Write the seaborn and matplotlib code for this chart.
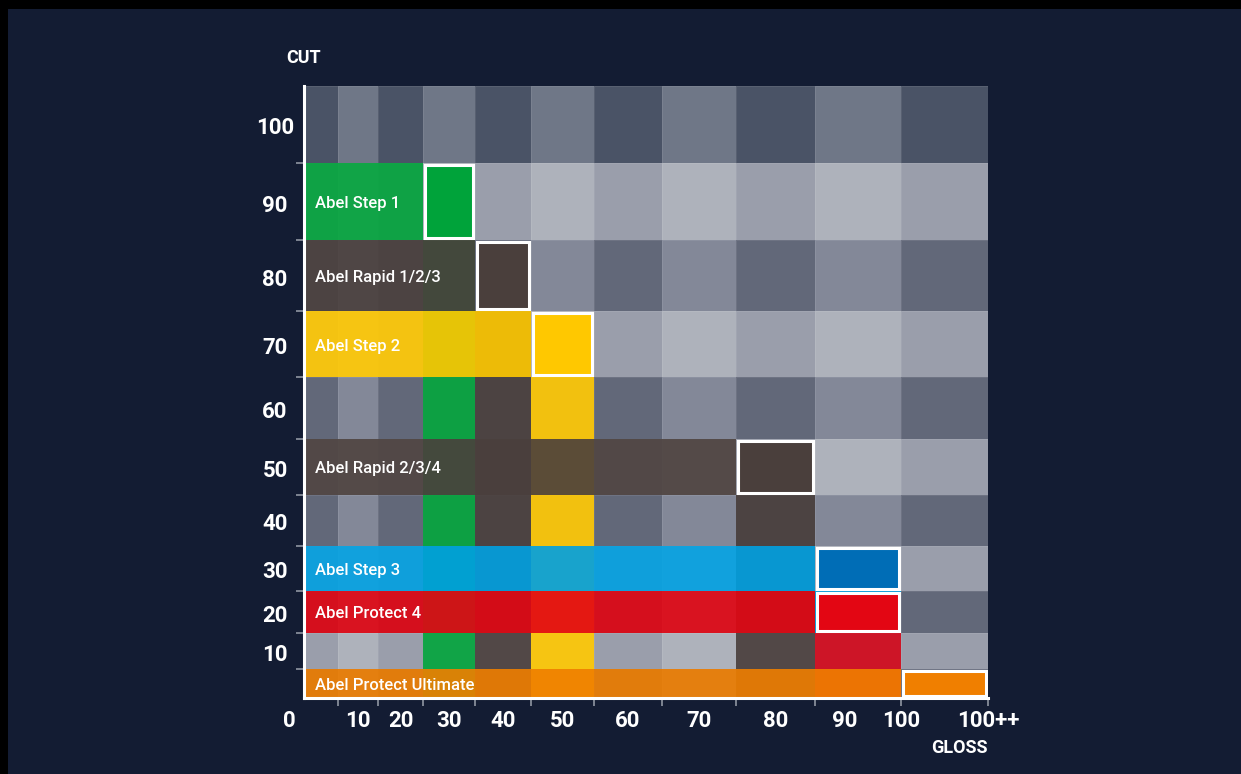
import numpy as np
import pandas as pd
import matplotlib
matplotlib.use("Agg")
import matplotlib.pyplot as plt
import matplotlib.transforms as mtransforms
from matplotlib.colors import ListedColormap
from matplotlib.patches import Rectangle
import seaborn as sns

# ---------------- data ----------------
cut_labels = ["100", "90", "80", "70", "60", "50", "40", "30", "20", "10", "0"]
gloss_columns = ["0", "10", "20", "30", "40", "50", "60", "70", "80", "90", "100"]
gloss_tick_labels = ["0", "10", "20", "30", "40", "50", "60", "70", "80", "90", "100", "100++"]

products = ["Abel Step 1", "Abel Rapid 1/2/3", "Abel Step 2", "Abel Rapid 2/3/4",
            "Abel Step 3", "Abel Protect 4", "Abel Protect Ultimate"]
product_cut = ["90", "80", "70", "50", "30", "20", "0"]
product_gloss = ["30", "40", "50", "80", "90", "90", "100"]
band_colors = ["#00a33a", "#4a3f3c", "#ffc800", "#4a3f3c", "#00a0e1", "#e30613", "#f07f00"]
mark_colors = ["#00a33a", "#4a3f3c", "#ffc800", "#4a3f3c", "#006db6", "#e30613", "#f07f00"]

# background grey pattern (row kind x column parity)
row_kind = ["top", "light", "mid", "light", "mid", "light", "mid", "light", "mid", "light", "mid"]
grey_levels = ["#4a5366", "#6f7787", "#9a9eab", "#aeb2bb", "#626879", "#838898"]

# ---------------- layout (pixels) ----------------
col_px = np.array([0, 34, 74, 119, 171, 227, 290, 358, 432, 511, 597, 684], float)
row_px = np.array([0, 77, 154, 225, 291, 353, 409, 460, 505, 547, 583, 612], float)
gloss_label_pos = [-0.44, 1.5, 2.5, 3.5, 4.5, 5.5, 6.5, 7.5, 8.5, 9.34, 10.0, 11.0]

W, H = 1241, 774
BG = "#131c33"

sns.set_theme(style="dark")
plt.rcParams["font.family"] = ["Roboto", "DejaVu Sans"]

fig = plt.figure(figsize=(W / 100, H / 100), dpi=100)
fig.patch.set_facecolor(BG)
ax = fig.add_axes([304 / W, (H - 698) / H, 684 / W, 612 / H])
ax.set_facecolor(BG)

kind_index = {"top": 0, "light": 1, "mid": 2}
codes = np.array([[kind_index[row_kind[r]] * 2 + (c % 2) for c in range(len(gloss_columns))]
                  for r in range(len(cut_labels))])
grid = pd.DataFrame(codes, index=cut_labels, columns=gloss_columns)

sns.heatmap(grid, cmap=ListedColormap(grey_levels), vmin=-0.5, vmax=len(grey_levels) - 0.5,
            cbar=False, linewidths=0.7, linecolor=(1, 1, 1, 0.08),
            xticklabels=False, yticklabels=False, ax=ax)


def piecewise(src, dst):
    src = np.asarray(src, float)
    dst = np.asarray(dst, float)
    lo = (dst[1] - dst[0]) / (src[1] - src[0])
    hi = (dst[-1] - dst[-2]) / (src[-1] - src[-2])

    def f(v):
        v = np.asarray(v, float)
        out = np.interp(v, src, dst)
        out = np.where(v < src[0], dst[0] + (v - src[0]) * lo, out)
        out = np.where(v > src[-1], dst[-1] + (v - src[-1]) * hi, out)
        return out
    return f


cidx = np.arange(len(col_px))
ridx = np.arange(len(row_px))
fx, fx_inv = piecewise(cidx, col_px), piecewise(col_px, cidx)
fy, fy_inv = piecewise(ridx, row_px), piecewise(row_px, ridx)
ax.set_xscale("function", functions=(fx, fx_inv))
ax.set_yscale("function", functions=(fy, fy_inv))
ax.set_xlim(0, len(gloss_columns))
ax.set_ylim(len(cut_labels), 0)

n_rows = len(cut_labels)
prod_rc = [(cut_labels.index(pc), gloss_columns.index(pg)) for pc, pg in zip(product_cut, product_gloss)]

# vertical product columns (below each product's mark)
for (r, c), col in zip(prod_rc, band_colors):
    if r + 1 < n_rows:
        ax.add_patch(Rectangle((c, r + 1), 1, n_rows - r - 1, facecolor=col,
                               alpha=0.9, lw=0, zorder=3))
# horizontal product bands
for (r, c), col, name in zip(prod_rc, band_colors, products):
    ax.add_patch(Rectangle((0, r), c, 1, facecolor=col, alpha=0.9, lw=0, zorder=4))
    ax.text(0, r + 0.5, name, color="white", fontsize=12, fontweight="medium",
            ha="left", va="center", zorder=6,
            transform=mtransforms.offset_copy(ax.transData, fig=fig, x=11, y=-2, units="dots"))
# highlighted cells
for (r, c), col in zip(prod_rc, mark_colors):
    x0 = float(fx_inv(col_px[c] + 1.8)); x1 = float(fx_inv(col_px[c + 1] - 1.8))
    y0 = float(fy_inv(row_px[r] + 1.8)); y1 = float(fy_inv(row_px[r + 1] - 1.8))
    ax.add_patch(Rectangle((x0, y0), x1 - x0, y1 - y0, facecolor=col, edgecolor="white",
                           lw=2.2, zorder=5))

# axes styling
for s in ["top", "right"]:
    ax.spines[s].set_visible(False)
for s in ["left", "bottom"]:
    ax.spines[s].set_visible(True)
    ax.spines[s].set_color("white")
    ax.spines[s].set_linewidth(2.2)
    ax.spines[s].set_zorder(7)

ax.set_xticks(np.arange(1, len(gloss_columns) + 1))
ax.set_yticks(np.arange(1, len(cut_labels)))
ax.set_xticklabels([])
ax.set_yticklabels([])
ax.xaxis.set_minor_locator(matplotlib.ticker.NullLocator())
ax.yaxis.set_minor_locator(matplotlib.ticker.NullLocator())
ax.tick_params(axis="both", which="major", direction="out", length=5.8, width=1.1,
               color="#9aa0ac", bottom=True, left=True)
ax.set_xlabel("")
ax.set_ylabel("")

# tick labels
xt = mtransforms.blended_transform_factory(ax.transData, ax.transAxes)
for pos, lab in zip(gloss_label_pos, gloss_tick_labels):
    ax.text(pos, (698 - 721) / 612, lab, transform=xt, color="white", fontsize=16,
            fontweight="bold", ha="center", va="center", clip_on=False)
yt = mtransforms.offset_copy(mtransforms.blended_transform_factory(ax.transAxes, ax.transData),
                             fig=fig, x=0, y=-4, units="dots")
for r, lab in enumerate(cut_labels[:-1]):
    ax.text((275 - 304) / 684, r + 0.5, lab, transform=yt, color="white", fontsize=16,
            fontweight="bold", ha="center", va="center", clip_on=False)

ax.text(0, (698 - 58) / 612, "CUT", transform=ax.transAxes, color="white", fontsize=13,
        fontweight="bold", ha="center", va="center", clip_on=False)
ax.text((959 - 304) / 684, (698 - 748) / 612, "GLOSS", transform=ax.transAxes, color="white",
        fontsize=13, fontweight="bold", ha="center", va="center", clip_on=False)

# black frame strips
fig.add_artist(Rectangle((0, 1 - 9 / H), 1, 9 / H, transform=fig.transFigure, color="black", lw=0))
fig.add_artist(Rectangle((0, 0), 8 / W, 1, transform=fig.transFigure, color="black", lw=0))

fig.savefig("out.png", dpi=100, facecolor=fig.get_facecolor())
